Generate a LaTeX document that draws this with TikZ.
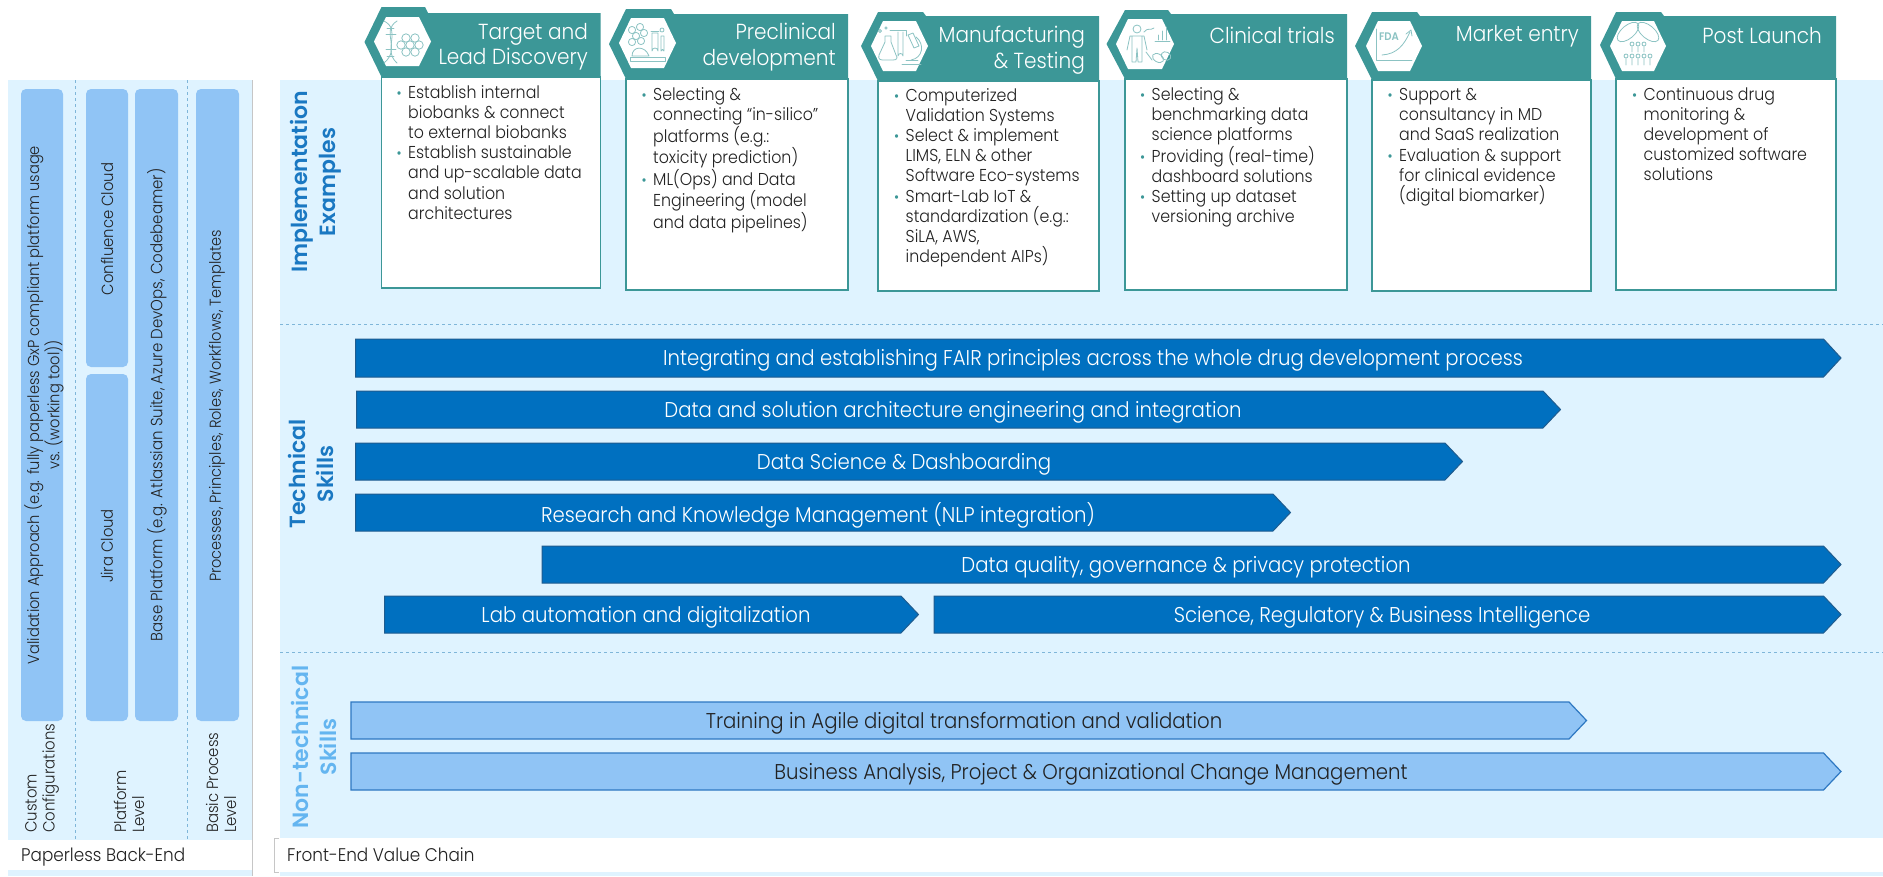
\documentclass[tikz,border=0pt]{standalone}
\usepackage{fontspec}
\setmainfont{Poppins Light}[FakeStretch=0.92]
\newfontfamily\boldsec{Poppins SemiBold}
\definecolor{panelbg}{HTML}{DFF3FF}
\definecolor{tealc}{HTML}{3C9797}
\definecolor{iconc}{HTML}{8CC3C3}
\definecolor{darkar}{HTML}{0070C0}
\definecolor{darkedge}{HTML}{1F5C8F}
\definecolor{lightar}{HTML}{90C4F5}
\definecolor{lightedge}{HTML}{2E78C2}
\definecolor{dashc}{HTML}{7FB6D9}
\definecolor{sechi}{HTML}{1A78C2}
\definecolor{seclo}{HTML}{64B5F0}
\definecolor{inkc}{HTML}{222222}
\tikzset{
  darkarrow/.style={fill=darkar,draw=darkedge,line width=1pt},
  lightarrow/.style={fill=lightar,draw=lightedge,line width=1.2pt},
  darktext/.style={text=white,font=\fontsize{21.4}{24}\selectfont,inner sep=0pt,yshift=-2.5pt},
  lighttext/.style={text=inkc,font=\fontsize{21.4}{24}\selectfont,inner sep=0pt,yshift=-2.5pt},
  headshape/.style={fill=tealc,draw=none},
  hexshape/.style={fill=white,draw=none},
  cardbox/.style={fill=white,draw=tealc,line width=1.1pt},
  bodytext/.style={anchor=north west,align=left,inner sep=0pt,text=inkc,
    font=\fontsize{17.2}{20.2}\selectfont},
  headtext/.style={anchor=east,align=right,inner sep=0pt,text=white,
    font=\fontsize{21.8}{25.5}\selectfont},
  barbox/.style={fill=lightar,draw=none,rounded corners=5pt},
  vlabel/.style={rotate=90,inner sep=0pt,text=inkc,align=center,font=\fontsize{15.9}{17}\selectfont},
  levellabel/.style={rotate=90,anchor=west,inner sep=0pt,text=inkc,align=left,font=\fontsize{16.2}{18}\selectfont},
  sectext/.style={rotate=90,inner sep=0pt,align=center,font=\boldsec\fontsize{22}{28}\selectfont},
  dashline/.style={draw=dashc,dashed,line width=0.8pt},
  iconline/.style={draw=iconc,line width=0.8pt,line cap=round,line join=round},
  foot/.style={anchor=west,inner sep=0pt,text=inkc,font=\fontsize{18.3}{20}\selectfont},
}
\newcommand{\bul}{\leavevmode\llap{\textcolor{tealc}{\fontsize{15}{12}\selectfont•}\hspace{6.5pt}}}
% name, x0, shoulder, ytop, ybottom, text centre x, arrow style, text style, text
\newcommand{\skillarrow}[9]{%
  \path[#7] (#2,#4) -- (#3,#4) -- ({#3+17.5},{(#4+#5)/2}) -- (#3,#5) -- (#2,#5) -- cycle;
  \node[#8] (#1) at (#6,{(#4+#5)/2}) {#9};
}
% header: tip x, mid y, box left, step x, top y, step y, right, bottom y
\newcommand{\headshape}[8]{%
  \path[headshape] (#1,#2) -- (#3,#5) -- (#4,#5) -- ({#4+3},#6) -- (#7,#6) -- (#7,#8) -- (#3,#8) -- cycle;
}
% white hexagon: left, right, top, bottom
\newcommand{\hexa}[4]{%
  \path[hexshape] (#1,{(#3+#4)/2}) -- ({#1+12},#3) -- ({#2-12},#3) -- (#2,{(#3+#4)/2}) -- ({#2-12},#4) -- ({#1+12},#4) -- cycle;
}
\begin{document}
\begin{tikzpicture}[x=1pt,y=-1pt]
\useasboundingbox (0,0) rectangle (1883,876);
% panels
\fill[panelbg] (8,80) rectangle (252,876);
\fill[panelbg] (280,80) rectangle (1883,876);
\fill[white] (8,840) rectangle (252,870);
\fill[white] (274,838) rectangle (1883,872);
\draw[gray!45,line width=0.6pt] (252,80) -- (252,876);
\draw[gray!45,line width=0.6pt] (279,838) -- (274,838) -- (274,872) -- (279,872);
% left panel bars
\path[barbox] (21,89) rectangle (63,721);
\path[barbox] (86,89) rectangle (128,367);
\path[barbox] (86,374) rectangle (128,721);
\path[barbox] (135,89) rectangle (178,721);
\path[barbox] (196,89) rectangle (239,721);
\coordinate (d1a) at (75,80); \coordinate (d1b) at (75,840);
\coordinate (d2a) at (187,80); \coordinate (d2b) at (187,840);
\draw[dashline] (d1a) -- (d1b);
\draw[dashline] (d2a) -- (d2b);
\node[vlabel] (validation) at (44,405) {Validation Approach (e.g. fully paperless GxP compliant platform usage\\vs. (working tool))};
\node[vlabel,font=\fontsize{16.1}{20}\selectfont] (confluence) at (107,229) {Confluence Cloud};
\node[vlabel,font=\fontsize{16.1}{20}\selectfont] (jira) at (107,546) {Jira Cloud};
\node[vlabel,font=\fontsize{16.3}{20}\selectfont] (baseplat) at (157,405) {Base Platform (e.g. Atlassian Suite, Azure DevOps, Codebeamer)};
\node[vlabel,font=\fontsize{15.8}{20}\selectfont] (processes) at (217,406) {Processes, Principles, Roles, Workflows, Templates};
\node[levellabel] (custom) at (42,833) {Custom\\Configurations};
\node[levellabel] (platform) at (129,833) {Platform\\Level};
\node[levellabel] (basic) at (221,833) {Basic Process\\Level};
\node[foot] (backend) at (21,857) {Paperless Back-End};
\node[foot] (frontend) at (287,855) {Front-End Value Chain};
% section rules
\coordinate (h1a) at (280,324); \coordinate (h1b) at (1883,324);
\coordinate (h2a) at (280,652); \coordinate (h2b) at (1883,652);
\draw[dashline] (h1a) -- (h1b);
\draw[dashline] (h2a) -- (h2b);
\node[sectext,text=sechi] (secimpl) at (316,182) {Implementation\\Examples};
\node[sectext,text=sechi] (sectech) at (311,474) {Technical\\Skills};
\node[sectext,text=seclo] (secnon) at (314,747) {Non-technical\\Skills};
% skill arrows
\skillarrow{a1}{355.5}{1823.5}{339}{377}{1093}{darkarrow}{darktext}{Integrating and establishing FAIR principles across the whole drug development process}
\skillarrow{a2}{356.5}{1543}{391}{428}{953}{darkarrow}{darktext}{Data and solution architecture engineering and integration}
\skillarrow{a3}{355.5}{1445}{443}{480}{904}{darkarrow}{darktext}{Data Science \& Dashboarding}
\skillarrow{a4}{355.5}{1273}{494}{531}{818}{darkarrow}{darktext}{Research and Knowledge Management (NLP integration)}
\skillarrow{a5}{542}{1823.5}{546}{583}{1186}{darkarrow}{darktext}{Data quality, governance \& privacy protection}
\skillarrow{a6}{384.6}{901}{596}{633}{646}{darkarrow}{darktext}{Lab automation and digitalization}
\skillarrow{a7}{934}{1823.5}{596}{633}{1382}{darkarrow}{darktext}{Science, Regulatory \& Business Intelligence}
\skillarrow{b1}{351}{1569}{702}{739}{964}{lightarrow}{lighttext}{Training in Agile digital transformation and validation}
\skillarrow{b2}{351}{1823.5}{753}{790}{1091}{lightarrow}{lighttext}{Business Analysis, Project \& Organizational Change Management}
% cards
\path[cardbox] (381.5,77) rectangle (600.5,288);
\path[cardbox] (626,79) rectangle (848,290);
\path[cardbox] (878,81) rectangle (1099,291);
\path[cardbox] (1125,79) rectangle (1347,290);
\path[cardbox] (1372,80) rectangle (1591,291);
\path[cardbox] (1616,79) rectangle (1836,290);
\headshape{364.5}{42}{381.5}{425}{7}{13}{600.5}{77}
\headshape{609}{44}{626}{671}{9}{14}{848}{79}
\headshape{861}{46}{878}{923}{12}{16}{1099}{81}
\headshape{1106.5}{44}{1125}{1168}{10}{14}{1347}{79}
\headshape{1355}{46}{1372}{1417}{12}{16}{1591}{80}
\headshape{1600}{45}{1616}{1661}{12}{16}{1836}{79}
\hexa{374}{431}{17}{66}
\hexa{619}{676}{18}{68}
\hexa{871}{928}{21}{71}
\hexa{1116}{1174}{19}{69}
\hexa{1366}{1422}{21}{71}
\hexa{1610}{1666}{21}{71}
% icon 1: DNA and hexagons
\begin{scope}[iconline]
\draw (384,21) .. controls (402,30) and (382,50) .. (397,63);
\draw (397,21) .. controls (380,32) and (402,48) .. (384,63);
\draw (387,28) -- (394,28) (386,34) -- (396,34) (386,49) -- (396,49) (387,56) -- (394,56);
\foreach \hx/\hy in {406/38,415/38,401/45,410/45,419/45,406/52,415/52}{
  \draw (\hx,\hy) circle[radius=4.2];
}
\end{scope}
% icon 2: molecule, tubes, mouse, shelf
\begin{scope}[iconline]
\foreach \hx/\hy in {632/30,640/27,636/36,644/33,632/42,641/41}{
  \draw (\hx,\hy) circle[radius=3.6];
}
\draw (630,57) -- (630,61) -- (665,61) -- (665,57) -- cycle;
\draw (632,56) .. controls (632,46) and (645,45) .. (649,56) -- cycle;
\draw (652,33) -- (652,51) arc[start angle=180,end angle=360,radius=3] -- (658,33) -- cycle;
\draw (661,36) -- (661,51) arc[start angle=180,end angle=360,radius=1.5] -- (664,36) -- cycle;
\draw (651,31) -- (659,31);
\draw (662,30) circle[radius=2];
\end{scope}
% icon 3: flask, tube, microscope
\begin{scope}[iconline]
\draw (885,36) -- (885,42) -- (879,55) .. controls (878,59) and (880,60) .. (883,60) -- (893,60) .. controls (897,60) and (898,58) .. (896,55) -- (891,42) -- (891,36) -- cycle;
\draw (898,32) -- (898,56) arc[start angle=180,end angle=360,radius=2.5] -- (903,32);
\draw (890,30) -- (906,30) -- (906,36);
\draw (908,35) -- (913,33) -- (919,46) -- (914,48) -- cycle;
\draw (916,37) .. controls (925,44) and (923,58) .. (911,60);
\draw (902,64) -- (921,64) (906,60) -- (918,60);
\draw (880,31) circle[radius=1.5] (886,28) circle[radius=1.2];
\end{scope}
% icon 4: person, bars, pills
\begin{scope}[iconline]
\draw (1137,29) circle[radius=4];
\draw (1130,36) -- (1144,36) -- (1147,50) (1130,36) -- (1127,50) (1132,36) -- (1132,62) -- (1136,62) -- (1137,48) -- (1138,62) -- (1142,62) -- (1142,36);
\draw (1144,32) .. controls (1148,27) and (1150,31) .. (1154,28);
\draw (1155,41) -- (1170,41) (1158,40) -- (1158,35) (1162,40) -- (1162,31) (1166,40) -- (1166,27);
\draw (1146,52) -- (1152,60);
\draw[rotate around={-30:(1158,58)}] (1158,58) ellipse[x radius=6,y radius=4];
\draw[rotate around={-30:(1166,56)}] (1166,56) ellipse[x radius=5,y radius=4];
\end{scope}
% icon 5: FDA curve
\begin{scope}[iconline]
\node[text=iconc,inner sep=0pt,font=\fontsize{11}{11}\selectfont\bfseries] (fdamark) at (1389,37) {FDA};
\draw (1376,29) -- (1376,60) -- (1412,60);
\draw (1382,55) .. controls (1397,54) and (1404,45) .. (1410,32);
\draw (1406,34) -- (1411,30) -- (1412,36);
\end{scope}
% icon 6: infinity pills and people
\begin{scope}[iconline]
\draw[rotate around={40:(1628,32)}] (1628,32) ellipse[x radius=13,y radius=6.5];
\draw[rotate around={-40:(1648,32)}] (1648,32) ellipse[x radius=13,y radius=6.5];
\foreach \px in {1632,1638,1644}{\draw (\px,44) circle[radius=2] (\px,47) -- (\px,52);}
\foreach \px in {1626,1632,1638,1644,1650}{\draw (\px,56) circle[radius=2] (\px,59) -- (\px,65);}
\end{scope}
% headers
\node[headtext] (h1) at (588,46.5) {Target and\\Lead Discovery};
\node[headtext] (h2) at (836,47) {Preclinical\\development};
\node[headtext] (h3) at (1085,50) {Manufacturing\\\& Testing};
\node[headtext] (h4) at (1335,35) {Clinical trials};
\node[headtext] (h5) at (1579,36) {Market entry};
\node[headtext] (h6) at (1822,36) {Post Launch};
% bodies
\node[bodytext] (t1) at (408,85) {\bul Establish internal\\biobanks \& connect\\to external biobanks\\\bul Establish sustainable\\and up-scalable data\\and solution\\architectures};
\node[bodytext] (t2) at (653,87) {\bul Selecting \&\\connecting “in-silico”\\platforms (e.g.:\\toxicity prediction)\\\bul ML(Ops) and Data\\Engineering (model\\and data pipelines)};
\node[bodytext] (t3) at (905.5,88) {\bul Computerized\\Validation Systems\\\bul Select \& implement\\LIMS, ELN \& other\\Software Eco-systems\\\bul Smart-Lab IoT \&\\standardization (e.g.:\\SiLA, AWS,\\independent AIPs)};
\node[bodytext] (t4) at (1151.5,87) {\bul Selecting \&\\benchmarking data\\science platforms\\\bul Providing (real-time)\\dashboard solutions\\\bul Setting up dataset\\versioning archive};
\node[bodytext] (t5) at (1399,88) {\bul Support \&\\consultancy in MD\\and SaaS realization\\\bul Evaluation \& support\\for clinical evidence\\(digital biomarker)};
\node[bodytext] (t6) at (1643.5,87) {\bul Continuous drug\\monitoring \&\\development of\\customized software\\solutions};
\end{tikzpicture}
\end{document}
